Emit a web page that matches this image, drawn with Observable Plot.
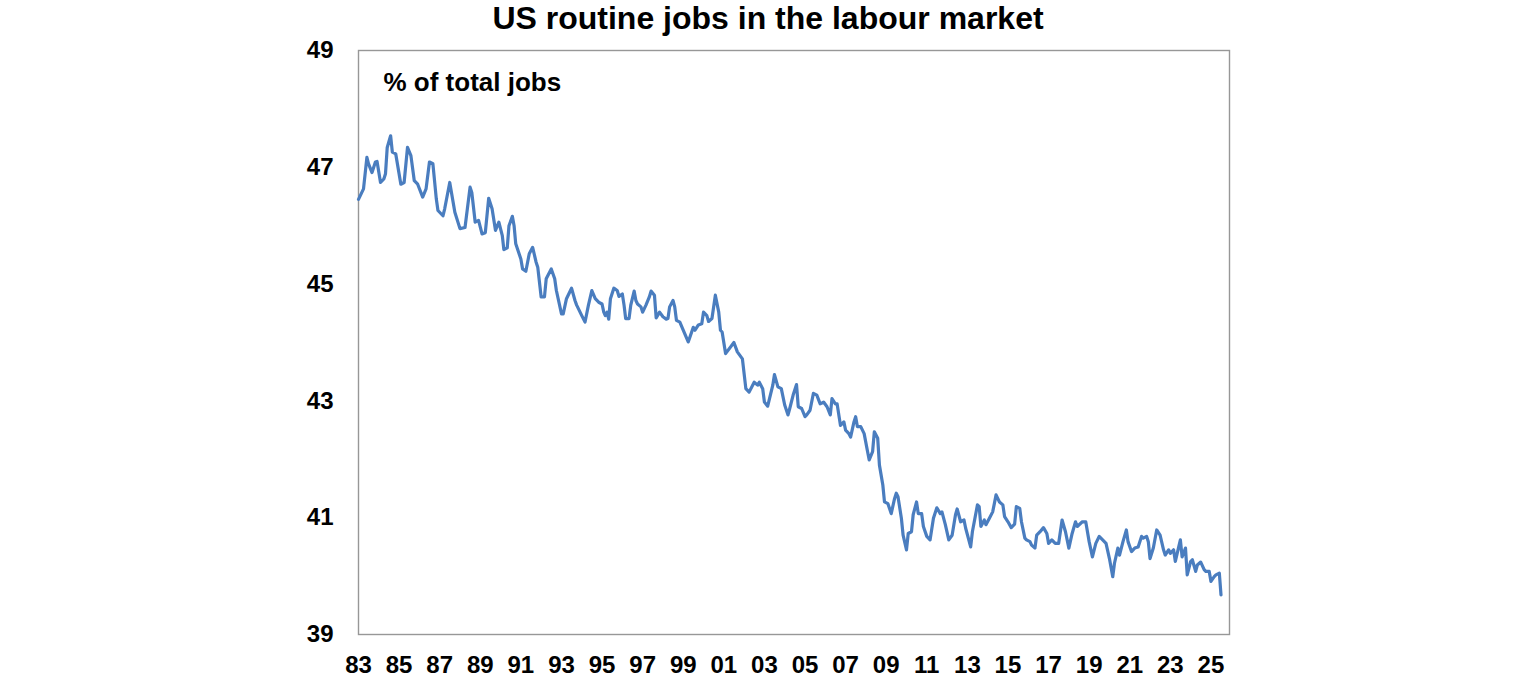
<!DOCTYPE html>
<html>
<head>
<meta charset="utf-8">
<script src="https://cdn.jsdelivr.net/npm/d3@7"></script>
<script src="https://cdn.jsdelivr.net/npm/@observablehq/plot@0.6"></script>
<style>
  html, body { margin: 0; padding: 0; background: #fff; }
  body { width: 1536px; height: 680px; overflow: hidden; font-family: "Liberation Sans", Arial, sans-serif; }
  #title { height: 36px; line-height: 36px; text-align: center; font-size: 32px; font-weight: bold; color: #000; }
</style>
</head>
<body>
<div id="title">US routine jobs in the labour market</div>
<div id="chart"></div>
<script>
const titleText = "US routine jobs in the labour market";
const unitLabel = "% of total jobs";

// [month, % of total jobs]
const series1983to1989 = [
  ["1983-01",46.45],["1983-04",46.63],["1983-06",47.17],["1983-07",47.06],["1983-09",46.91],["1983-11",47.09],["1983-12",47.10],
  ["1984-02",46.74],["1984-04",46.80],["1984-05",46.89],["1984-06",47.34],["1984-08",47.54],["1984-09",47.26],["1984-11",47.23],
  ["1985-02",46.71],["1985-04",46.74],["1985-06",47.34],["1985-08",47.20],["1985-10",46.77],["1985-12",46.71],
  ["1986-03",46.49],["1986-05",46.63],["1986-07",47.09],["1986-09",47.06],["1986-11",46.46],["1986-12",46.26],
  ["1987-03",46.17],["1987-04",46.29],["1987-07",46.74],["1987-10",46.23],
  ["1988-01",45.95],["1988-04",45.97],["1988-07",46.66],["1988-08",46.57],["1988-10",46.06],["1988-12",46.09],
  ["1989-02",45.86]
];
const series1989to1994 = [
  ["1989-04",45.88],["1989-06",46.47],["1989-08",46.29],["1989-10",45.92],["1989-12",46.06],
  ["1990-02",45.83],["1990-03",45.59],["1990-05",45.62],["1990-06",46.00],["1990-08",46.16],["1990-09",46.00],["1990-10",45.69],
  ["1991-01",45.43],["1991-02",45.26],["1991-04",45.22],["1991-06",45.52],["1991-08",45.63],["1991-10",45.38],["1991-11",45.29],
  ["1992-01",44.78],["1992-03",44.78],["1992-04",45.09],["1992-07",45.26],["1992-09",45.09],["1992-10",44.89],
  ["1993-01",44.49],["1993-02",44.49],["1993-04",44.75],["1993-07",44.93],["1993-09",44.72],["1993-10",44.64],["1993-11",44.58],
  ["1994-01",44.46],["1994-03",44.35],["1994-05",44.64],["1994-07",44.89],["1994-09",44.75],["1994-11",44.69]
];
const series1995to2000 = [
  ["1995-01",44.66],["1995-02",44.52],["1995-03",44.46],["1995-04",44.52],["1995-05",44.40],["1995-06",44.75],["1995-08",44.93],["1995-10",44.89],["1995-11",44.79],
  ["1996-01",44.83],["1996-02",44.64],["1996-03",44.41],["1996-05",44.41],["1996-06",44.64],["1996-08",44.88],["1996-09",44.72],["1996-10",44.66],["1996-12",44.61],
  ["1997-01",44.52],["1997-03",44.64],["1997-05",44.78],["1997-06",44.88],["1997-08",44.81],["1997-09",44.42],["1997-11",44.52],
  ["1998-01",44.44],["1998-03",44.40],["1998-04",44.41],["1998-05",44.61],["1998-07",44.72],["1998-08",44.61],["1998-09",44.38],["1998-11",44.35],
  ["1999-01",44.21],["1999-04",44.01],["1999-05",44.09],["1999-07",44.26],["1999-08",44.21],["1999-10",44.30],["1999-12",44.32],
  ["2000-01",44.52],["2000-03",44.46],["2000-04",44.36],["2000-06",44.41],["2000-08",44.81],["2000-10",44.52],["2000-11",44.21],["2000-12",44.18]
];
const series2001to2008 = [
  ["2001-02",43.81],["2001-07",44.00],["2001-09",43.84],["2001-12",43.72],
  ["2002-02",43.21],["2002-04",43.15],["2002-07",43.32],["2002-09",43.27],["2002-10",43.32],["2002-12",43.21],
  ["2003-01",42.98],["2003-03",42.91],["2003-06",43.27],["2003-07",43.45],["2003-09",43.24],["2003-11",43.21],
  ["2004-01",42.93],["2004-03",42.76],["2004-04",42.87],["2004-06",43.10],["2004-08",43.28],["2004-09",42.90],["2004-11",42.87],
  ["2005-01",42.73],["2005-02",42.76],["2005-04",42.84],["2005-06",43.13],["2005-08",43.10],["2005-10",42.95],["2005-12",42.98],
  ["2006-02",42.90],["2006-04",42.76],["2006-05",43.04],["2006-07",42.95],["2006-08",42.95],["2006-10",42.58],["2006-12",42.64],
  ["2007-01",42.50],["2007-03",42.44],["2007-04",42.38],["2007-06",42.64],["2007-07",42.73],["2007-08",42.56],["2007-10",42.56],["2007-12",42.44],
  ["2008-02",42.13],["2008-03",41.99],["2008-05",42.13],["2008-06",42.47],["2008-08",42.36],["2008-09",41.90],["2008-11",41.56],["2008-12",41.27]
];
const series2009to2016 = [
  ["2009-02",41.24],["2009-04",41.07],["2009-06",41.33],["2009-07",41.42],["2009-08",41.36],["2009-10",40.99],["2009-11",40.70],
  ["2010-01",40.45],["2010-02",40.73],["2010-04",40.76],["2010-05",41.05],["2010-07",41.27],["2010-08",41.07],["2010-10",41.07],["2010-11",40.85],
  ["2011-01",40.68],["2011-03",40.62],["2011-05",40.99],["2011-07",41.17],["2011-09",41.07],["2011-10",41.10],["2011-12",40.88],
  ["2012-02",40.62],["2012-04",40.70],["2012-06",41.05],["2012-07",41.15],["2012-09",40.93],["2012-11",40.96],["2012-12",40.82],
  ["2013-03",40.50],["2013-04",40.76],["2013-07",41.22],["2013-08",41.19],["2013-09",40.85],["2013-11",40.96],["2013-12",40.88],
  ["2014-02",40.99],["2014-04",41.10],["2014-05",41.24],["2014-06",41.39],["2014-08",41.27],["2014-10",41.22],["2014-11",41.02],
  ["2015-01",40.93],["2015-03",40.83],["2015-05",40.89],["2015-06",41.19],["2015-08",41.16],["2015-09",40.93],["2015-11",40.65],["2015-12",40.62],
  ["2016-02",40.59],["2016-03",40.53],["2016-05",40.48],["2016-06",40.70],["2016-08",40.76],["2016-10",40.83],["2016-12",40.73]
];
const series2017to2025 = [
  ["2017-01",40.56],["2017-03",40.62],["2017-05",40.56],["2017-07",40.56],["2017-09",40.96],["2017-11",40.76],
  ["2018-01",40.48],["2018-03",40.73],["2018-05",40.93],["2018-06",40.85],["2018-09",40.93],["2018-11",40.93],
  ["2019-01",40.59],["2019-03",40.33],["2019-05",40.56],["2019-07",40.68],["2019-09",40.62],["2019-11",40.56],
  ["2020-01",40.30],["2020-03",39.99],["2020-04",40.22],["2020-06",40.48],["2020-07",40.36],["2020-09",40.59],["2020-11",40.79],["2020-12",40.59],
  ["2021-02",40.42],["2021-04",40.48],["2021-06",40.50],["2021-08",40.68],["2021-09",40.65],["2021-11",40.68],["2021-12",40.59],
  ["2022-01",40.30],["2022-03",40.48],["2022-05",40.79],["2022-07",40.70],["2022-09",40.45],["2022-10",40.36],["2022-12",40.45],
  ["2023-01",40.39],["2023-03",40.45],["2023-04",40.25],["2023-06",40.50],["2023-07",40.62],["2023-08",40.33],["2023-10",40.48],["2023-11",40.02],
  ["2024-01",40.25],["2024-02",40.28],["2024-04",40.08],["2024-05",40.19],["2024-07",40.24],["2024-09",40.11],["2024-10",40.08],["2024-12",40.08],
  ["2025-01",39.91],["2025-03",39.99],["2025-04",40.02],["2025-06",40.05],["2025-07",39.68]
];

const xTickYears = [1983,1985,1987,1989,1991,1993,1995,1997,1999,2001,2003,2005,2007,2009,2011,2013,2015,2017,2019,2021,2023,2025];
const yTicks = [39, 41, 43, 45, 47, 49];
const yDomain = [39, 49];
const xDomain = ["1983-01", "2025-12"];

const parseMonth = d3.utcParse("%Y-%m");
const data = [
  ...series1983to1989, ...series1989to1994, ...series1995to2000,
  ...series2001to2008, ...series2009to2016, ...series2017to2025
].map(([m, v]) => ({date: parseMonth(m), value: v}));

const fontFamily = '"Liberation Sans", Arial, sans-serif';

const chart = Plot.plot({
  width: 1536,
  height: 644,
  marginLeft: 358,
  marginRight: 307,
  marginTop: 14,
  marginBottom: 46,
  style: {fontFamily, fontSize: "24px", fontWeight: "bold", color: "#000", background: "#fff"},
  x: {type: "utc", domain: xDomain.map(parseMonth)},
  y: {domain: yDomain},
  marks: [
    Plot.axisX({
      ticks: xTickYears.map(y => new Date(Date.UTC(y, 0, 1))),
      tickFormat: d3.utcFormat("%y"),
      tickSize: 0,
      tickPadding: 21,
      label: null,
      fontSize: 24,
      fontWeight: "bold"
    }),
    Plot.axisY({
      ticks: yTicks,
      tickSize: 0,
      tickPadding: 25,
      label: null,
      fontSize: 24,
      fontWeight: "bold"
    }),
    Plot.frame({stroke: "#979797", strokeWidth: 1.4}),
    Plot.text([unitLabel], {
      text: d => d,
      frameAnchor: "top-left",
      textAnchor: "start",
      lineAnchor: "top",
      dx: 25,
      dy: 22,
      fontSize: 26,
      fontWeight: "bold",
      fill: "#000"
    }),
    Plot.line(data, {x: "date", y: "value", stroke: "#4a7dbf", strokeWidth: 3.2, strokeLinejoin: "round"})
  ]
});
document.getElementById("chart").appendChild(chart);
</script>
</body>
</html>
